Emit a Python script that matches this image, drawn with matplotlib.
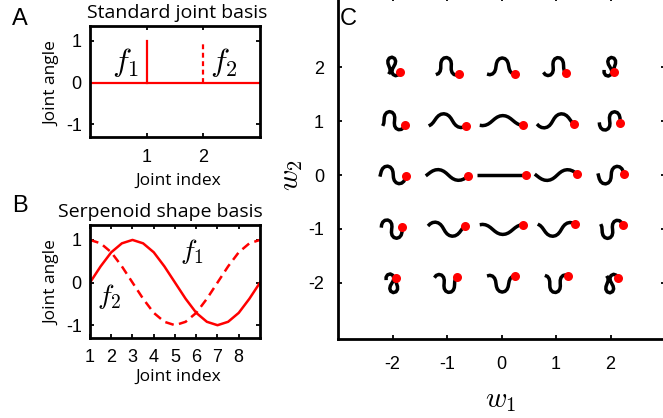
import matplotlib
matplotlib.use('Agg')
import matplotlib.pyplot as plt
import numpy as np

plt.rcParams['font.family'] = ['Liberation Sans', 'DejaVu Sans']
plt.rcParams['mathtext.fontset'] = 'cm'
plt.rcParams['axes.unicode_minus'] = False

# ---------------- data ----------------
# A: standard joint basis (one unit spike per joint)
a_joint = [1, 2]
a_value = [1, 1]
a_xlim = [0, 3]

# B: serpenoid basis, read at half joint steps
b_index = [1, 1.5, 2, 2.5, 3, 3.5, 4, 4.5, 5, 5.5, 6, 6.5, 7, 7.5, 8, 8.5, 9]
b_f1 = [0, 0.38, 0.71, 0.92, 1, 0.92, 0.71, 0.38, 0,
        -0.38, -0.71, -0.92, -1, -0.92, -0.71, -0.38, 0]
b_f2 = [1, 0.92, 0.71, 0.38, 0, -0.38, -0.71, -0.92, -1,
        -0.92, -0.71, -0.38, 0, 0.38, 0.71, 0.92, 1]

# C: grid of shape weights
w1_vals = [-2, -1, 0, 1, 2]
w2_vals = [2, 1, 0, -1, -2]

joint_gain = 0.28   # rad per unit weight, per body segment
body_len = 0.9      # drawn length of each snake

red = '#ff0000'
label_font = 'Open Sans'

fig = plt.figure(figsize=(6.63, 4.18), dpi=100)


def style_box(ax, lw=2.0):
    for s in ax.spines.values():
        s.set_linewidth(lw)
    ax.tick_params(direction='in', top=True, right=True, length=3,
                   width=1.3, labelsize=13)


#******************************  A
axA = fig.add_axes([90/663, 281/418, 170/663, 111/418])
axA.plot(a_xlim, [0, 0], color=red, lw=1.6)
axA.plot([a_joint[0]] * 2, [0, a_value[0]], color=red, lw=1.6)
axA.plot([a_joint[1]] * 2, [0, a_value[1]], color=red, lw=1.6,
         dashes=(2.2, 1.6))
axA.set_xlim(a_xlim)
axA.set_ylim(-1.3, 1.35)
axA.set_xticks([1, 2])
axA.set_yticks([-1, 0, 1])
style_box(axA)
axA.tick_params(axis='x', pad=9)
axA.tick_params(axis='y', pad=6)
axA.text(0.63, 0.48, '$f_1$', fontsize=23, ha='center', va='center')
axA.text(2.37, 0.48, '$f_2$', fontsize=23, ha='center', va='center')

fig.text(20/663, 1 - 25/418, 'A', fontsize=17, ha='center', va='baseline')
fig.text(177/663, 1 - 18/418, 'Standard joint basis', fontsize=14,
         family=label_font, ha='center', va='baseline')
fig.text(52/663, 1 - 84/418, 'Joint angle', fontsize=12.5, family=label_font,
         rotation=90, ha='center', va='center')
fig.text(178/663, 1 - 185/418, 'Joint index', fontsize=12.5,
         family=label_font, ha='center', va='baseline')

#******************************  B
axB = fig.add_axes([90/663, 80/418, 170/663, 113/418])
axB.plot(b_index, b_f1, color=red, lw=1.8)
axB.plot(b_index, b_f2, color=red, lw=1.8, dashes=(3.5, 2.2))
axB.set_xlim(1, 9)
axB.set_ylim(-1.3, 1.35)
axB.set_xticks(range(1, 9))
axB.set_yticks([-1, 0, 1])
style_box(axB)
axB.tick_params(axis='x', pad=8)
axB.tick_params(axis='y', pad=6)
axB.text(5.8, 0.72, '$f_1$', fontsize=20, ha='center', va='center')
axB.text(1.9, -0.32, '$f_2$', fontsize=20, ha='center', va='center')

fig.text(20/663, 1 - 212/418, 'B', fontsize=17, ha='center', va='baseline')
fig.text(58/663, 1 - 217/418, 'Serpenoid shape basis', fontsize=14,
         family=label_font, ha='left', va='baseline')
fig.text(52/663, 1 - 283/418, 'Joint angle', fontsize=12.5,
         family=label_font, rotation=90, ha='center', va='center')
fig.text(178/663, 1 - 381/418, 'Joint index', fontsize=12.5,
         family=label_font, ha='center', va='baseline')

#******************************  C
axC = fig.add_axes([338/663, 79/418, 327/663, 342/418])

# basis values along the body (one full period, 16 bends)
f1_body = np.array(b_f1[:-1])
f2_body = np.array(b_f2[:-1])
n_link = len(f1_body) + 1

for w2 in w2_vals:
    for w1 in w1_vals:
        theta = joint_gain * (w1 * f1_body + w2 * f2_body)
        heading = np.concatenate([[0], np.cumsum(theta)])
        heading -= heading.mean()
        seg = body_len / n_link
        px = np.concatenate([[0], np.cumsum(seg * np.cos(heading))])
        py = np.concatenate([[0], np.cumsum(seg * np.sin(heading))])
        px = px - px.mean() + w1
        py = py - py.mean() + w2
        axC.plot(px, py, color='black', lw=2.5, solid_capstyle='butt')
        axC.plot(px[-1], py[-1], 'o', color=red, ms=6.5, mec='none', zorder=5)

axC.set_xlim(-3, 3)
axC.set_ylim(-3.04, 3.3)
axC.set_xticks(w1_vals)
axC.set_yticks(w2_vals)
style_box(axC)
axC.tick_params(axis='x', pad=12)
axC.tick_params(axis='y', pad=10)

fig.text(348/663, 1 - 25/418, 'C', fontsize=17, ha='center', va='baseline')
fig.text(501/663, 1 - 400/418, '$w_1$', fontsize=21, ha='center', va='center')
fig.text(291/663, 1 - 175/418, '$w_2$', fontsize=21, rotation=90,
         ha='center', va='center')

fig.savefig('out.png', dpi=100)
